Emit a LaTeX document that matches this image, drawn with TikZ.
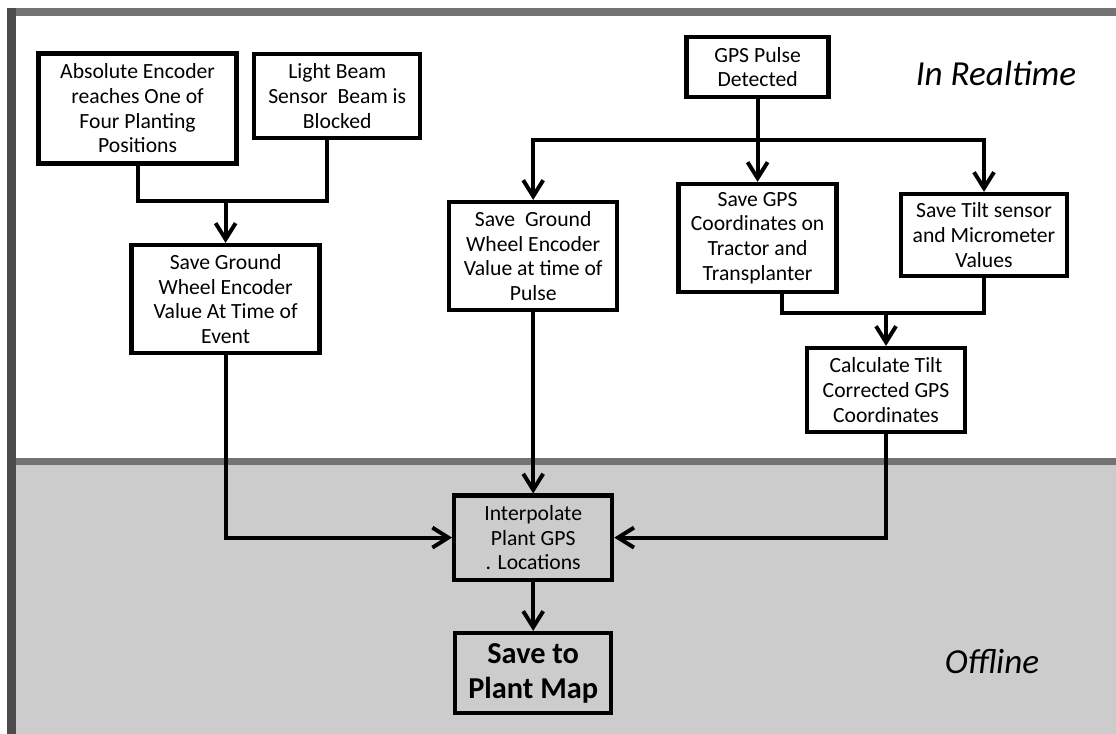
\documentclass[tikz,border=0pt]{standalone}
\usepackage{fontspec}
\setmainfont{Carlito}
\usetikzlibrary{arrows.meta}

\begin{document}
\begin{tikzpicture}[
        box/.style={
            rectangle,
            draw,
            line width=3pt,
            align=center,
            font=\fontsize{15.4}{17.6}\selectfont,
            inner sep=2pt
        },
        mapbox/.style={
            box,
            font=\bfseries\fontsize{21.6}{25}\selectfont
        },
        zone/.style={font=\itshape\fontsize{25}{30}\selectfont},
        line/.style={line width=2.8pt},
        arrow/.style={line, -{Straight Barb[length=4mm,width=5mm]}}
    ]

        % frame and the two zones
        \useasboundingbox (0,0) rectangle (27.9,-18.35);
        \fill[black!20] (0.4,-11.55) rectangle (27.9,-18.35);
        \fill[black!55] (0.175,-0.2) rectangle (27.9,-0.4);
        \fill[black!55] (0.4,-11.45) rectangle (27.9,-11.62);
        \fill[black!70] (0.175,-0.2) rectangle (0.4,-18.35);

        \node[zone] (rt) at (24.9,-1.825) {In Realtime};
        \node[zone] (off) at (24.8,-16.55) {Offline};

        \node[box, minimum width=4.95cm, minimum height=2.75cm] (abs) at (3.44,-2.71) {Absolute Encoder\\reaches One of\\Four Planting\\Positions};
        \node[box, minimum width=4.15cm, minimum height=2.1cm] (beam) at (8.43,-2.4) {Light Beam\\Sensor~ Beam is\\Blocked};
        \node[box, minimum width=3.55cm, minimum height=1.5cm] (gps) at (18.94,-1.675) {GPS Pulse\\Detected};
        \node[box, minimum width=4.7cm, minimum height=2.7cm] (event) at (5.64,-7.475) {Save Ground\\Wheel Encoder\\Value At Time of\\Event};
        \node[box, minimum width=4.2cm, minimum height=2.7cm] (pulse) at (13.33,-6.4) {Save~ Ground\\Wheel Encoder\\Value at time of\\Pulse};
        \node[box, minimum width=3.95cm, minimum height=2.7cm] (coord) at (18.94,-5.95) {Save GPS\\Coordinates on\\Tractor and\\Transplanter};
        \node[box, minimum width=4.15cm, minimum height=2.05cm] (tilt) at (24.6,-5.875) {Save Tilt sensor\\and Micrometer\\Values};
        \node[box, minimum width=3.95cm, minimum height=2.1cm] (calc) at (22.15,-9.75) {Calculate Tilt\\Corrected GPS\\Coordinates};
        \node[box, minimum width=3.95cm, minimum height=2.1cm] (interp) at (13.33,-13.44) {Interpolate\\Plant GPS\\. Locations};
        \node[mapbox, minimum width=3.9cm, minimum height=2.0cm] (map) at (13.33,-16.825) {Save to\\Plant Map};

        \coordinate (jab) at (5.64,-5.025);
        \coordinate (jgps) at (18.94,-3.5);
        \coordinate (jtilt) at (22.15,-7.825);

        \draw[line] (abs.south) |- (jab) -| ([xshift=-0.25cm]beam.south);
        \draw[arrow] (jab) -- (event.north);
        \draw[arrow] (gps.south) -- (coord.north);
        \draw[arrow] (jgps) -| (pulse.north);
        \draw[arrow] (jgps) -| (tilt.north);
        \draw[line] ([xshift=0.6cm]coord.south) |- (jtilt) -| (tilt.south);
        \draw[arrow] (jtilt) -- (calc.north);
        \draw[arrow] (event.south) |- (interp.west);
        \draw[arrow] (pulse.south) -- (interp.north);
        \draw[arrow] (calc.south) |- (interp.east);
        \draw[arrow] (interp.south) -- (map.north);

    \end{tikzpicture}
\end{document}
